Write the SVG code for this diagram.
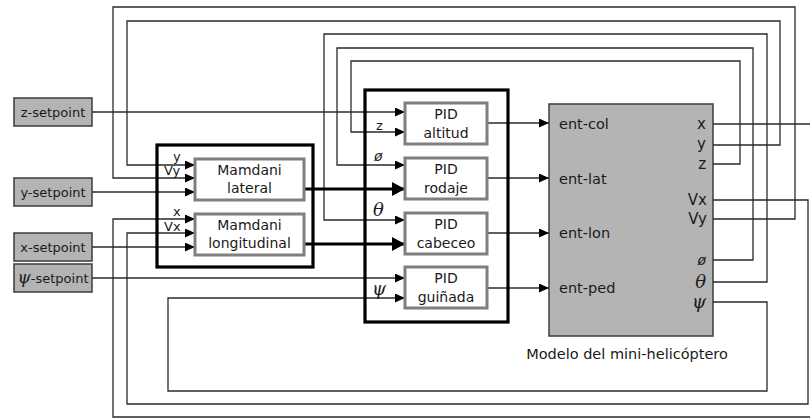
<svg xmlns="http://www.w3.org/2000/svg" width="810" height="419" viewBox="0 0 810 419">
  <style>
    .wire { fill: none; stroke: #2a2a2a; stroke-width: 1.3; }
    .bus { fill: none; stroke: #000; stroke-width: 3.2; }
    .frame { fill: none; stroke: #000; stroke-width: 3.2; }
    .block { fill: #fff; stroke: #7f7f7f; stroke-width: 3; }
    .grey { fill: #b4b4b4; stroke: #3c3c3c; stroke-width: 1.5; }
    text { font-family: "DejaVu Sans", "Liberation Sans", sans-serif; fill: #1a1a1a; }
    .blk { font-size: 14px; text-anchor: middle; }
    .sp { font-size: 13px; text-anchor: middle; }
    .port { font-size: 14.5px; }
    .out { font-size: 15px; text-anchor: end; }
    .sig { font-size: 13px; }
    .phi { font-size: 14px; font-style: italic; }
    .greek { font-family: "DejaVu Serif", "Liberation Serif", serif; font-style: italic; font-size: 18px; }
  </style>
  <defs>
    <marker id="arr" markerUnits="userSpaceOnUse" markerWidth="10" markerHeight="9" refX="10" refY="4.5" orient="auto">
      <path d="M0,0 L10,4.5 L0,9 z" fill="#000"/>
    </marker>
    <marker id="arrBig" markerUnits="userSpaceOnUse" markerWidth="13" markerHeight="14" refX="13" refY="7" orient="auto">
      <path d="M0,0 L13,7 L0,14 z" fill="#000"/>
    </marker>
  </defs>

  <rect width="810" height="419" fill="#fff"/>

  <!-- connectors -->
  <g id="connectors">
    <!-- setpoints -->
    <path class="wire" d="M92,112 H405" marker-end="url(#arr)"/>
    <path class="wire" d="M92,192 H195" marker-end="url(#arr)"/>
    <path class="wire" d="M92,247 H195" marker-end="url(#arr)"/>
    <path class="wire" d="M92,278 H405" marker-end="url(#arr)"/>
    <!-- Vy feedback -->
    <path class="wire" d="M712,219 H795 V7 H113 V178 H195" marker-end="url(#arr)"/>
    <!-- y feedback -->
    <path class="wire" d="M712,145 H780 V21 H127 V165 H195" marker-end="url(#arr)"/>
    <!-- x feedback (wraps round the right edge) -->
    <path class="wire" d="M712,124 H810"/>
    <path class="wire" d="M810,417 H113 V219 H195" marker-end="url(#arr)"/>
    <!-- Vx feedback -->
    <path class="wire" d="M712,200 H808 V404 H127 V233 H195" marker-end="url(#arr)"/>
    <!-- z feedback -->
    <path class="wire" d="M712,164 H740 V61 H351 V132 H405" marker-end="url(#arr)"/>
    <!-- roll feedback -->
    <path class="wire" d="M712,260 H753 V48 H337 V165 H405" marker-end="url(#arr)"/>
    <!-- pitch feedback -->
    <path class="wire" d="M712,282 H767 V34 H324 V220 H405" marker-end="url(#arr)"/>
    <!-- yaw feedback -->
    <path class="wire" d="M712,302 H767 V391 H168 V298 H405" marker-end="url(#arr)"/>
    <!-- fuzzy outputs to PID -->
    <path class="bus" d="M304,189 H405" marker-end="url(#arrBig)"/>
    <path class="bus" d="M304,244 H405" marker-end="url(#arrBig)"/>
    <!-- PID outputs to model -->
    <path class="wire" d="M487,123 H549" marker-end="url(#arr)"/>
    <path class="wire" d="M487,178 H549" marker-end="url(#arr)"/>
    <path class="wire" d="M487,233 H549" marker-end="url(#arr)"/>
    <path class="wire" d="M487,288 H549" marker-end="url(#arr)"/>
  </g>

  <!-- setpoint sources -->
  <g id="z-setpoint">
    <rect class="grey" x="14" y="98" width="78" height="28"/>
    <text class="sp" x="53" y="117">z-setpoint</text>
  </g>
  <g id="y-setpoint">
    <rect class="grey" x="14" y="178" width="78" height="28"/>
    <text class="sp" x="53" y="197">y-setpoint</text>
  </g>
  <g id="x-setpoint">
    <rect class="grey" x="14" y="233" width="78" height="28"/>
    <text class="sp" x="53" y="252">x-setpoint</text>
  </g>
  <g id="psi-setpoint">
    <rect class="grey" x="14" y="264" width="78" height="28"/>
    <text class="sp" x="53" y="283"><tspan font-family="DejaVu Serif, serif" font-style="italic" font-size="17">ψ</tspan>-setpoint</text>
  </g>

  <!-- fuzzy controllers -->
  <g id="fuzzy-group">
    <rect class="frame" x="157" y="145" width="156" height="122"/>
  </g>
  <g id="mamdani-lateral">
    <rect class="block" x="195" y="159" width="109" height="41"/>
    <text class="blk" x="249.5" y="175">Mamdani</text>
    <text class="blk" x="249.5" y="193">lateral</text>
    <text class="sig" x="173" y="161">y</text>
    <text class="sig" x="164" y="175">Vy</text>
  </g>
  <g id="mamdani-longitudinal">
    <rect class="block" x="195" y="214" width="109" height="41"/>
    <text class="blk" x="249.5" y="230">Mamdani</text>
    <text class="blk" x="249.5" y="248">longitudinal</text>
    <text class="sig" x="173" y="216">x</text>
    <text class="sig" x="164" y="231">Vx</text>
  </g>

  <!-- PID controllers -->
  <g id="pid-group">
    <rect class="frame" x="365" y="90" width="143" height="232"/>
  </g>
  <g id="pid-altitud">
    <rect class="block" x="405" y="103" width="82" height="41"/>
    <text class="blk" x="446" y="119">PID</text>
    <text class="blk" x="446" y="138">altitud</text>
    <text class="sig" x="376" y="130">z</text>
  </g>
  <g id="pid-rodaje">
    <rect class="block" x="405" y="158" width="82" height="41"/>
    <text class="blk" x="446" y="174">PID</text>
    <text class="blk" x="446" y="193">rodaje</text>
    <text class="phi" x="374" y="161">ø</text>
  </g>
  <g id="pid-cabeceo">
    <rect class="block" x="405" y="213" width="82" height="41"/>
    <text class="blk" x="446" y="229">PID</text>
    <text class="blk" x="446" y="248">cabeceo</text>
    <text class="greek" x="373" y="216">θ</text>
  </g>
  <g id="pid-guinada">
    <rect class="block" x="405" y="267" width="82" height="41"/>
    <text class="blk" x="446" y="283">PID</text>
    <text class="blk" x="446" y="302">guiñada</text>
    <text class="greek" x="372" y="295">ψ</text>
  </g>

  <!-- plant -->
  <g id="modelo">
    <rect class="grey" x="549" y="104" width="164" height="232"/>
    <text class="port" x="559" y="129">ent-col</text>
    <text class="port" x="559" y="184">ent-lat</text>
    <text class="port" x="559" y="238">ent-lon</text>
    <text class="port" x="559" y="293">ent-ped</text>
    <text class="out" x="706" y="129">x</text>
    <text class="out" x="706" y="149">y</text>
    <text class="out" x="706" y="169">z</text>
    <text class="out" x="707" y="205">Vx</text>
    <text class="out" x="707" y="224">Vy</text>
    <text class="out phi" x="706" y="265">ø</text>
    <text class="out greek" x="706" y="288">θ</text>
    <text class="out greek" x="706" y="308">ψ</text>
    <text class="port" x="627" y="359" text-anchor="middle">Modelo del mini-helicóptero</text>
  </g>
</svg>
